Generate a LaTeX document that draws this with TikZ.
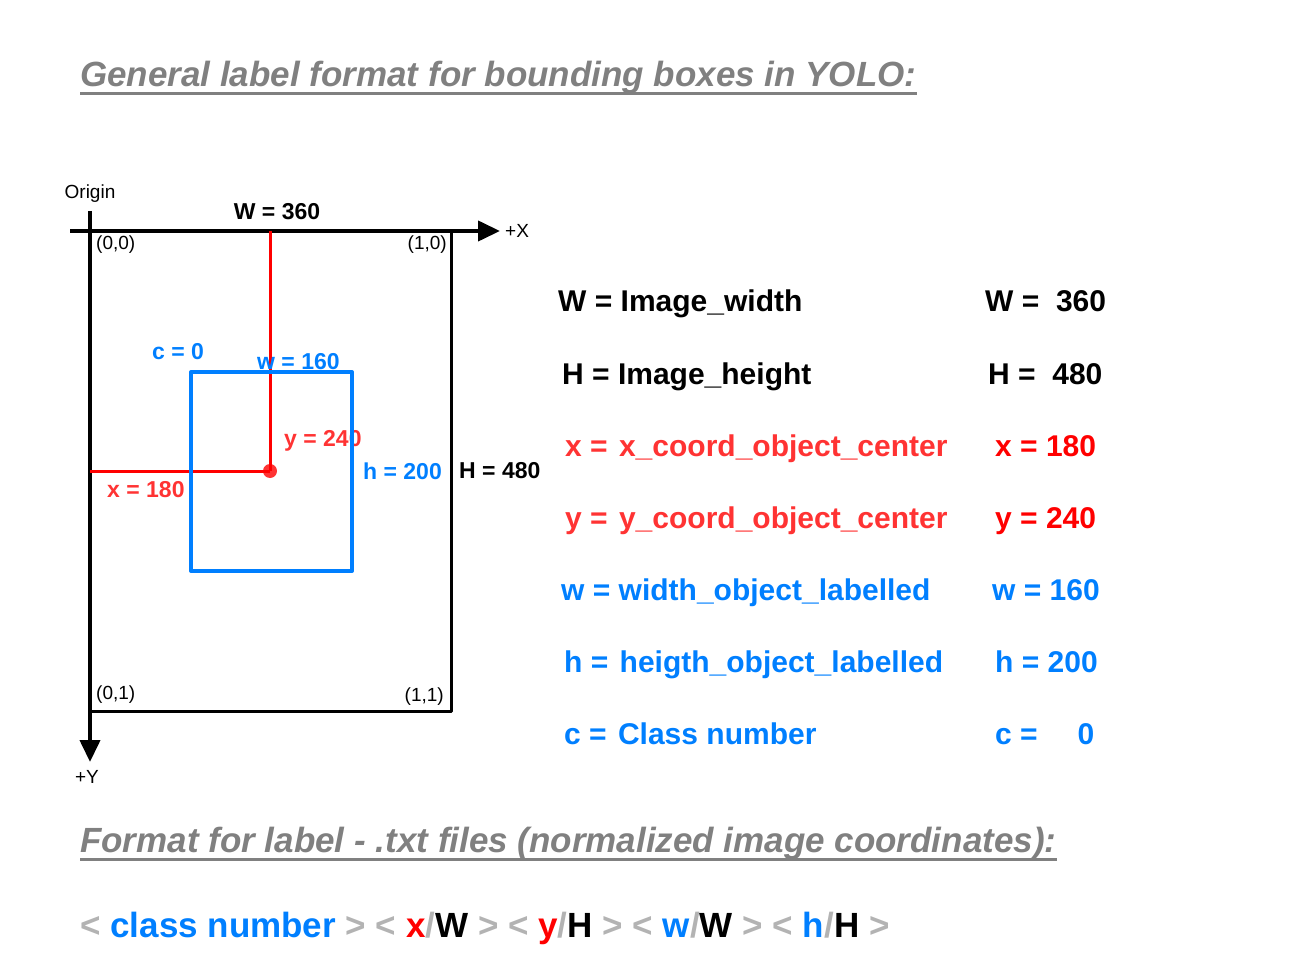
\documentclass[tikz,border=0pt]{standalone}
\usepackage{fontspec}
\setmainfont{Liberation Sans}
\usetikzlibrary{arrows.meta,positioning}
\definecolor{yblue}{RGB}{0,127,255}
\definecolor{yred}{RGB}{255,51,51}
\definecolor{ygray}{RGB}{128,128,128}
\definecolor{ylight}{RGB}{179,179,179}
\newcommand{\fsz}[1]{\fontsize{#1}{#1}\selectfont}
\begin{document}
\begin{tikzpicture}[x=1pt,y=-1pt,line join=round,>={Triangle[length=22pt,width=20pt]},
  txt/.style={inner sep=0pt,anchor=base west},
  small/.style={inner sep=0pt,font=\fsz{19}},
  lbl/.style={inner sep=0pt,font=\fsz{23}\bfseries},
  row/.style={inner sep=0pt,anchor=base west,font=\fsz{30}\bfseries},
  head/.style={inner sep=0pt,anchor=base west,text=ygray,font=\fsz{35}\bfseries\itshape},
  uline/.style={ygray,line width=3pt}]
\useasboundingbox (0,0) rectangle (1311,957);
% headings
\node[head] (title) at (80,87) {General label format for bounding boxes in YOLO:};
\draw[uline] ([yshift=-7pt]title.base west) -- ([yshift=-7pt]title.base east);
\node[head] (fmt) at (80,852) {Format for label - .txt files (normalized image coordinates):};
\draw[uline] ([yshift=-7pt]fmt.base west) -- ([yshift=-7pt]fmt.base east);

% axes and image frame
\coordinate (O) at (90,231);
\coordinate (xa) at (70,231);
\coordinate (xb) at (500,231);
\coordinate (ya) at (90,211);
\coordinate (yb) at (90,762);
\coordinate (BR) at (451,711);
\draw[line width=3pt] (O) rectangle (BR);
\draw[line width=4pt,->] (xa) -- (xb);
\draw[line width=4pt,->] (ya) -- (yb);
\node[small] (origin) at (90,194) {Origin};
\node[small,anchor=west] (px) at (505,231) {+X};
\node[small] (py) at (87,777) {+Y};
\node[small,anchor=west] (c00) at (96,245) {(0,0)};
\node[small,anchor=east] (c10) at (447,245) {(1,0)};
\node[small,anchor=west] (c01) at (96,695) {(0,1)};
\node[small,anchor=east] (c11) at (444,697) {(1,1)};
\node[lbl] (Wl) at (277,212) {W = 360};
\node[lbl,anchor=west] (Hl) at (459,471) {H = 480};

% object centre
\coordinate (top) at (270,231);
\coordinate (left) at (90,471);
\node[circle,fill=yred,inner sep=0pt,minimum size=14pt] (ctr) at (270,471) {};
\draw[red,line width=3pt] (top) -- (ctr.center);
\draw[red,line width=3pt] (left) -- (ctr.center);
\node[lbl,text=yred,anchor=west] (yl) at (284,441) {y = 240};
\node[lbl,text=yred,anchor=west] (xl) at (107,490) {x = 180};

% bounding box
\draw[yblue,line width=4pt] (191,372) rectangle (352,571);
\node[lbl,text=yblue,anchor=west] (cl) at (152,352) {c = 0};
\node[lbl,text=yblue,anchor=west] (wl) at (257,362) {w = 160};
\node[lbl,text=yblue,anchor=west] (hl) at (363,471) {h = 200};

% legend
\node[row] (r1) at (558,312) {W = Image\_width};
\node[row] (r2) at (562,384) {H = Image\_height};
\node[row,text=yred] (r3) at (565,456) {x = \hspace{3pt}x\_coord\_object\_center};
\node[row,text=yred] (r4) at (565,528) {y = \hspace{3pt}y\_coord\_object\_center};
\node[row,text=yblue] (r5) at (561,600) {w = width\_object\_labelled};
\node[row,text=yblue] (r6) at (564,672) {h = \hspace{3pt}heigth\_object\_labelled};
\node[row,text=yblue] (r7) at (564,744) {c = \hspace{3pt}Class number};
\node[row] (v1) at (985,312) {W = \ 360};
\node[row] (v2) at (988,384) {H = \ 480};
\node[row,text=red] (v3) at (995,456) {x = 180};
\node[row,text=red] (v4) at (995,528) {y = 240};
\node[row,text=yblue] (v5) at (992,600) {w = 160};
\node[row,text=yblue] (v6) at (995,672) {h = 200};
\node[row,text=yblue] (v7) at (995,744) {c =\hskip 40pt 0};

% label line format
\node[txt,font=\fsz{35}\bfseries] (line) at (80,937) {%
  {\color{ylight}<} {\color{yblue}class number} {\color{ylight}>}
  {\color{ylight}<} {\color{red}x}{\color{ylight}/}W {\color{ylight}>}
  {\color{ylight}<} {\color{red}y}{\color{ylight}/}H {\color{ylight}>}
  {\color{ylight}<} {\color{yblue}w}{\color{ylight}/}W {\color{ylight}>}
  {\color{ylight}<} {\color{yblue}h}{\color{ylight}/}H {\color{ylight}>}};
\end{tikzpicture}
\end{document}
